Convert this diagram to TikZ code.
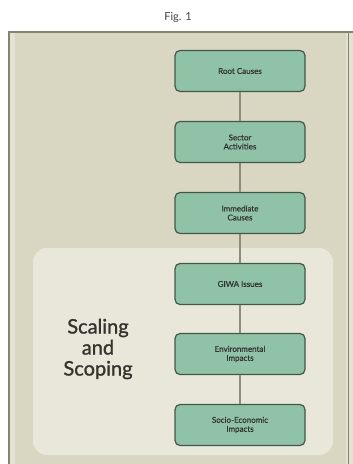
\documentclass[tikz,border=0pt]{standalone}
\usepackage{fontspec}
\setmainfont{Lato}
\newfontfamily\heavyface{Lato}[FakeBold=1.2]
\newfontfamily\boxface{Lato}[FakeBold=0.6]
\begin{document}
\definecolor{panel}{HTML}{D9D7C2}
\definecolor{panellight}{HTML}{E9E7D9}
\definecolor{frameline}{HTML}{858371}
\definecolor{boxfill}{HTML}{8FC2A6}
\definecolor{boxline}{HTML}{44574B}
\definecolor{linkline}{HTML}{8C8C7E}
\definecolor{inktext}{HTML}{33332F}
\tikzset{
  stepbox/.style={draw=boxline, line width=1.2pt, fill=boxfill, rounded corners=5pt,
    minimum width=130pt, minimum height=41pt, align=center,
    font=\boxface\fontsize{8}{9}\selectfont,
    text=inktext, inner sep=2pt},
  link/.style={draw=linkline, line width=1.3pt}
}
\begin{tikzpicture}[x=1pt,y=-1pt]
\useasboundingbox (0,0) rectangle (353,464);
\fill[white] (0,0) rectangle (353,464);
% caption
\node[text=black!75, font=\fontsize{11}{12}\selectfont] (cap) at (178,17) {Fig. 1};
% outer frame
\fill[panel] (8,32) rectangle (353,464);
\fill[panellight!70!panel] (10,33) rectangle (15,464);
\fill[panellight!60!panel] (346,33) rectangle (353,464);
\draw[frameline, line width=1pt] (348,33) -- (348,464);
\draw[frameline, line width=2pt] (9,32) -- (9,464);
\draw[frameline, line width=1.2pt] (8,32) -- (353,32);
% scaling and scoping panel
\fill[panellight, rounded corners=14pt] (33,248) rectangle (333,455);
\node[text=inktext, font=\heavyface\fontsize{20}{22}\selectfont, align=center] (scope) at (98,349)
  {Scaling\\[-1pt]and\\[-1pt]Scoping};
% steps
\node[stepbox] (root) at (240,71) {Root Causes};
\node[stepbox] (sector) at (240,142) {Sector\\Activities};
\node[stepbox] (immed) at (240,213) {Immediate\\Causes};
\node[stepbox] (giwa) at (240,284) {GIWA Issues};
\node[stepbox] (env) at (240,354) {Environmental\\Impacts};
\node[stepbox] (socio) at (240,425) {Socio-Economic\\Impacts};
% connectors
\draw[link] (root) -- (sector);
\draw[link] (sector) -- (immed);
\draw[link] (immed) -- (giwa);
\draw[link] (giwa) -- (env);
\draw[link] (env) -- (socio);
\end{tikzpicture}
\end{document}
